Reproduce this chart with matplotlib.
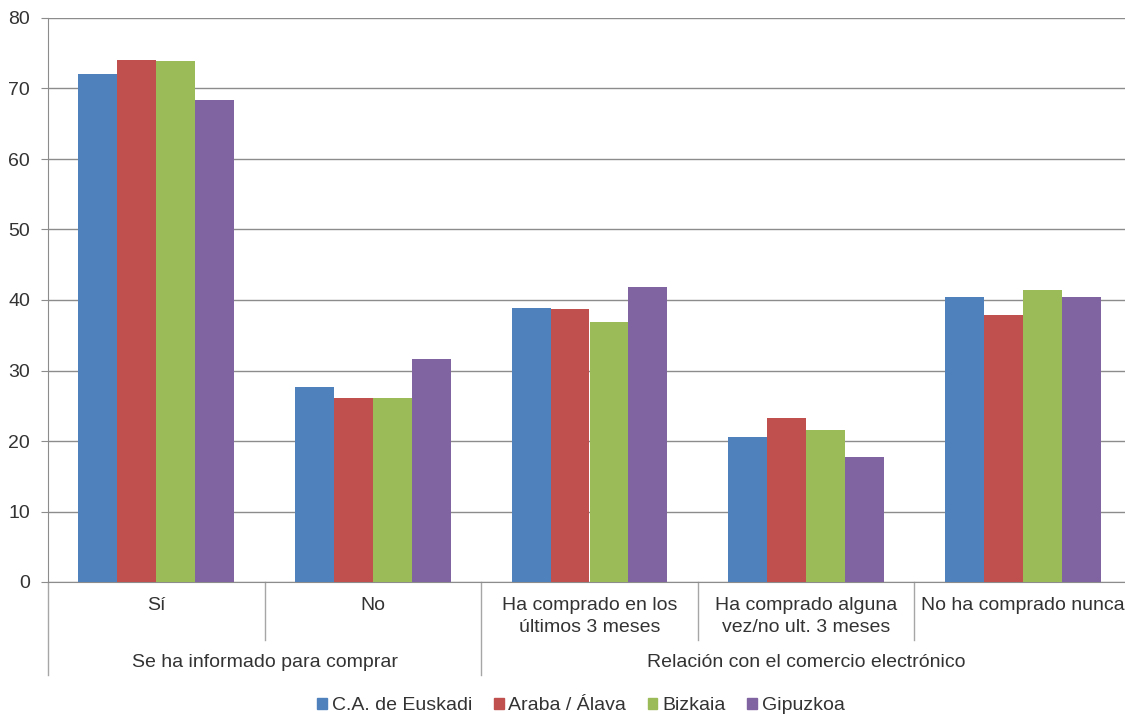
import numpy as np
import matplotlib.pyplot as plt
from matplotlib.patches import Patch
import matplotlib.transforms as mtransforms

plt.rcParams['font.family'] = ['Liberation Sans', 'DejaVu Sans']

# ------------------------------------
# Data
# ------------------------------------
categories = [
    "Sí",
    "No",
    "Ha comprado en los\núltimos 3 meses",
    "Ha comprado alguna\nvez/no ult. 3 meses",
    "No ha comprado nunca",
]
groups = ["Se ha informado para comprar", "Relación con el comercio electrónico"]
group_sizes = [2, 3]

series = ["C.A. de Euskadi", "Araba / Álava", "Bizkaia", "Gipuzkoa"]
euskadi = [72.1, 27.7, 38.9, 20.6, 40.4]
araba = [74.0, 26.1, 38.7, 23.3, 37.9]
bizkaia = [73.9, 26.1, 36.9, 21.6, 41.4]
gipuzkoa = [68.4, 31.6, 41.9, 17.7, 40.4]
values = [euskadi, araba, bizkaia, gipuzkoa]
colors = ["#4F81BD", "#C0504D", "#9BBB59", "#8064A2"]

# ------------------------------------
# Figure
# ------------------------------------
W, H = 1125, 717
fig = plt.figure(figsize=(W / 100, H / 100), dpi=100)
ax = fig.add_axes([48 / W, 1 - 582 / H, 1083 / W, 564 / H])

x = np.arange(len(categories))
bw = 0.18
for i, (vals, c) in enumerate(zip(values, colors)):
    ax.bar(x + (i - 1.5) * bw, vals, bw, color=c, label=series[i], zorder=3)

ax.set_xlim(-0.5, len(categories) - 0.5)
ax.set_ylim(0, 80)
ax.set_yticks(range(0, 81, 10))
ax.yaxis.grid(True, color="#8c8c8c", linewidth=1)
ax.set_axisbelow(True)
ax.set_xticks([])
ax.tick_params(axis="y", length=5, color="#8c8c8c", labelsize=14,
               labelcolor="#333333", pad=8)
for s in ["top", "right"]:
    ax.spines[s].set_visible(False)
ax.spines["left"].set_color("#8c8c8c")
ax.spines["bottom"].set_color("#8c8c8c")

# multi-level category axis
trans = mtransforms.blended_transform_factory(ax.transData, ax.transAxes)
line_kw = dict(color="#a6a6a6", linewidth=1, transform=trans, clip_on=False)
ax.plot([-0.5, -0.5], [0, -0.165], **line_kw)

group_edges = np.cumsum([0] + group_sizes) - 0.5
for xb in x[:-1] + 0.5:
    if xb in group_edges:
        ax.plot([xb, xb], [0, -0.165], **line_kw)
    else:
        ax.plot([xb, xb], [0, -0.103], **line_kw)

for xi, lab in zip(x, categories):
    ax.text(xi, -0.026, lab, transform=trans, ha="center", va="top",
            fontsize=14, color="#333333", linespacing=1.4)

for g, lab in enumerate(groups):
    mid = (group_edges[g] + group_edges[g + 1]) / 2
    ax.text(mid, -0.142, lab, transform=trans, ha="center", va="center",
            fontsize=14, color="#333333")

handles = [Patch(color=c, label=s) for s, c in zip(series, colors)]
fig.legend(handles=handles, loc="center", bbox_to_anchor=(581 / W, 1 - 706 / H),
           ncol=4, frameon=False, fontsize=14, handlelength=0.5,
           handleheight=0.5, handletextpad=0.25, columnspacing=1.1,
           labelcolor="#333333")

fig.savefig("out.png", dpi=100)
